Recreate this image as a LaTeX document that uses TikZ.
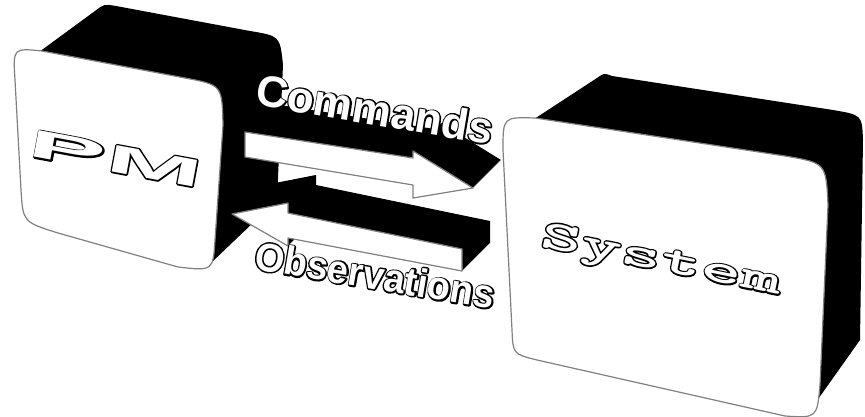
\documentclass[tikz,border=0pt]{standalone}
\usepackage{fontspec}
\setmainfont{Liberation Sans}
\newfontfamily\cmdfont{Liberation Sans}[FakeStretch=1.0]
\newfontfamily\obsfont{Liberation Sans}[FakeStretch=0.95]
\newfontfamily\pmfont{Liberation Sans}[FakeStretch=3.0]
\newfontfamily\sysfont{lmmonolt10-bold.otf}[FakeStretch=1.9]
\tikzset{
  face/.style={fill=white, draw=black!50, line width=1.2pt, line join=round},
  hollowtext/.style={inner sep=0pt, outer sep=0pt, anchor=base west},
}
% white letters with a black rim: a black stroked copy under a white copy
\newcommand\hollow[2]{\rlap{\special{pdf:literal direct 2 Tr #1 w 1 j}#2\special{pdf:literal direct 0 Tr 1 w}}{\color{white}#2}}
\begin{document}
\begin{tikzpicture}[x=1pt,y=-1pt]
\useasboundingbox (0,0) rectangle (865,417);
% PM box
\fill (35,55) -- (95,11) .. controls (104,4) .. (116,6) -- (250,31) .. controls (280,36) .. (283,65) -- (277,200) -- (212,262) -- cycle;
\draw[face] (15,80) .. controls (13,48) .. (42,51) -- (185,78) .. controls (222,85) .. (223,125) -- (215,240) .. controls (213,271) .. (178,267) -- (58,233) .. controls (23,222) .. (21,190) -- cycle;
% System box
\fill (525,125) -- (597,78) .. controls (604,73) .. (612,76) -- (833,110) .. controls (862,115) .. (863,140) -- (860,340) -- (816,402) -- (790,410) -- cycle;
\draw[face] (503,150) .. controls (503,117) .. (535,118) -- (785,156) .. controls (826,163) .. (828,205) -- (820,385) .. controls (817,418) .. (785,416) -- (537,360) .. controls (513,354) .. (512,330) -- cycle;
% Observations arrow
\foreach \t in {0,0.5,...,28}{\fill[shift={(\t,-\t)}] (232,214) -- (288,203) -- (288,213) -- (462,249) -- (462,271) -- (288,238) -- (288,246) -- cycle;}
\draw[face] (232,214) -- (288,203) -- (288,213) -- (462,249) -- (462,271) -- (288,238) -- (288,246) -- cycle;
% Commands arrow
\foreach \t in {0,0.5,...,28}{\fill[shift={(\t,-\t)}] (245,132) -- (413,158) -- (413,151) -- (473,188) -- (413,198) -- (413,185) -- (245,157) -- cycle;}
\draw[face] (245,132) -- (413,158) -- (413,151) -- (473,188) -- (413,198) -- (413,185) -- (245,157) -- cycle;
% labels
\node[hollowtext, rotate=-9.5] (cmd) at (254,105) {\cmdfont\bfseries\fontsize{44}{44}\selectfont\hollow{3}{Commands}};
\node[hollowtext, rotate=-9.5] (obs) at (253,269) {\obsfont\bfseries\fontsize{40}{40}\selectfont\hollow{3}{Observations}};
\node[hollowtext, rotate=-10.5] (pm) at (27,156) {\pmfont\bfseries\fontsize{39}{39}\selectfont\hollow{3}{P\kern0.5pt M}};
\node[hollowtext, rotate=-11.5] (sys) at (539,246) {\sysfont\fontsize{41}{41}\selectfont\hollow{3}{System}};
\end{tikzpicture}
\end{document}
